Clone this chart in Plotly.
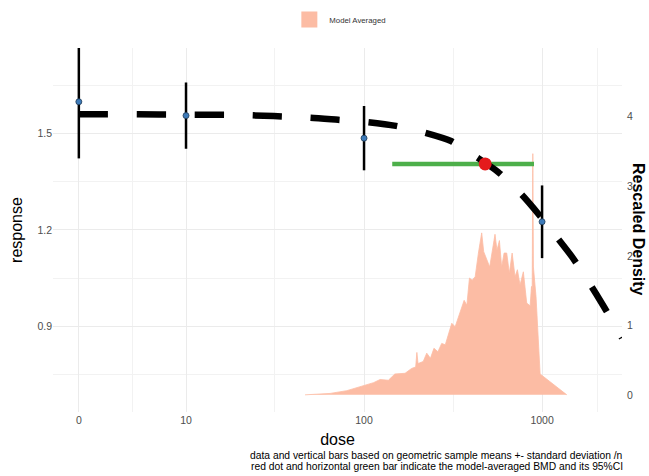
import plotly.graph_objects as go

# ---------------- data ----------------
dose_levels = [0, 10, 100, 1000]
resp_mean = [1.598, 1.555, 1.485, 1.225]
resp_sd = [0.176, 0.103, 0.100, 0.113]

ZERO_DOSE_POS = 2.5  # display position of dose 0 on the log dose axis

curve_dose = [0, 5, 10, 20, 49, 71.5, 104, 151, 220, 308, 437, 566, 772, 974,
              1183, 1474, 1813, 2230, 2812]
curve_resp = [1.559, 1.559, 1.558, 1.557, 1.549, 1.542, 1.535, 1.523, 1.502,
              1.476, 1.423, 1.380, 1.308, 1.243, 1.184, 1.116, 1.041, 0.960, 0.864]

bmd = 479
bmd_resp = 1.405
bmd_lower = 144
bmd_upper = 901

density_dose = [46.6, 64.4, 80, 99, 113, 123, 137, 149, 170, 185, 195, 198, 201,
                215, 225, 236, 247, 260, 273, 286, 298, 311, 325, 339, 352, 365,
                378, 391, 405, 421, 439, 458, 470, 493, 508, 544, 558, 576, 593,
                612, 633, 655, 679, 705, 727, 752, 785, 820, 857, 872, 880, 887,
                894, 925, 941, 958, 975, 1377]
density_val = [0.0, 0.02, 0.06, 0.127, 0.175, 0.22, 0.21, 0.30, 0.31, 0.38, 0.40,
               0.61, 0.45, 0.48, 0.60, 0.525, 0.67, 0.62, 0.74, 0.72, 0.86, 1.03,
               0.98, 1.12, 1.22, 1.36, 1.29, 1.68, 1.65, 1.70, 2.04, 2.33, 2.06,
               1.94, 1.84, 2.31, 2.08, 2.22, 1.84, 2.04, 2.04, 1.75, 2.04, 1.70,
               1.80, 1.58, 1.77, 1.32, 1.28, 1.56, 1.50, 3.47, 1.84, 1.41, 0.98,
               0.50, 0.30, 0.0]

x_tick_vals = [0, 10, 100, 1000]
x_tick_text = ["0", "10", "100", "1000"]
x_minor_vals = [5, 31.6, 316, 2040]
y_tick_vals = [0.9, 1.2, 1.5]
y_minor_vals = [0.75, 1.05, 1.35, 1.65]
dens_tick_vals = [0, 1, 2, 3, 4]

caption_lines = [
    "data and vertical bars based on geometric sample means +- standard deviation /n",
    "red dot and horizontal green bar indicate the model-averaged BMD and its 95%CI",
]


def pos(d):
    return ZERO_DOSE_POS if d == 0 else d


PINK = "#FCBCA4"
FONT = "Liberation Sans, Arial, Helvetica, sans-serif"
TICK_COLOR = "#4D4D4D"

fig = go.Figure()

# density (secondary scale, drawn underneath)
fig.add_trace(go.Scatter(
    x=density_dose, y=density_val, mode="lines", fill="tozeroy",
    fillcolor=PINK, line=dict(color=PINK, width=0.8),
    xaxis="x", yaxis="y", showlegend=False, hoverinfo="skip"))

# legend key
fig.add_trace(go.Scatter(
    x=[None], y=[None], mode="markers", name="Model Averaged",
    marker=dict(symbol="square", size=16, color=PINK), xaxis="x", yaxis="y"))

# BMD confidence interval (green)
fig.add_trace(go.Scatter(
    x=[bmd_lower, bmd_upper], y=[bmd_resp, bmd_resp], mode="lines",
    line=dict(color="#4DAF4A", width=4.5), xaxis="x", yaxis="y2",
    showlegend=False))

# model-averaged curve
fig.add_trace(go.Scatter(
    x=[pos(d) for d in curve_dose], y=curve_resp, mode="lines",
    line=dict(color="black", width=6.5, dash="29px,29px", shape="spline",
              smoothing=0.6),
    xaxis="x", yaxis="y2", showlegend=False))

# data points with SD bars
fig.add_trace(go.Scatter(
    x=[pos(d) for d in dose_levels], y=resp_mean, mode="markers",
    marker=dict(color="#3D7AB8", size=6, line=dict(color="#1F3B57", width=0.8)),
    error_y=dict(type="data", array=resp_sd, color="black", thickness=2.5, width=0),
    xaxis="x", yaxis="y2", showlegend=False))

# BMD point
fig.add_trace(go.Scatter(
    x=[bmd], y=[bmd_resp], mode="markers",
    marker=dict(color="#E41A1C", size=13), xaxis="x", yaxis="y2",
    showlegend=False))

fig.update_layout(
    width=649, height=476,
    margin=dict(l=53, r=27, t=48, b=64, autoexpand=False),
    paper_bgcolor="white", plot_bgcolor="white",
    font=dict(family=FONT, color="black"),
    xaxis=dict(
        type="log", range=[0.2528, 3.449], automargin=False,
        tickmode="array", tickvals=[pos(v) for v in x_tick_vals], ticktext=x_tick_text,
        tickfont=dict(size=10.5, color=TICK_COLOR),
        showgrid=True, gridcolor="#EBEBEB", gridwidth=1,
        minor=dict(tickmode="array", tickvals=x_minor_vals, showgrid=True,
                   gridcolor="#F2F2F2", gridwidth=1),
        zeroline=False, showline=False, ticks="",
        title=dict(text="dose", font=dict(size=16), standoff=9),
    ),
    yaxis=dict(
        side="right", range=[-0.247, 4.99], automargin=False,
        tickmode="array", tickvals=dens_tick_vals, ticklabelstandoff=4,
        tickfont=dict(size=10.5, color=TICK_COLOR),
        showgrid=False, zeroline=False, showline=False, ticks="",
    ),
    yaxis2=dict(
        overlaying="y", side="left", range=[0.6337, 1.7652], automargin=False,
        tickmode="array", tickvals=y_tick_vals,
        tickfont=dict(size=10.5, color=TICK_COLOR),
        showgrid=True, gridcolor="#EBEBEB", gridwidth=1,
        minor=dict(tickmode="array", tickvals=y_minor_vals, showgrid=True,
                   gridcolor="#F2F2F2", gridwidth=1),
        zeroline=False, showline=False, ticks="",
        title=dict(text="response", font=dict(size=16), standoff=10),
    ),
    legend=dict(orientation="h", x=0.505, xanchor="center", y=1.118, yanchor="top",
                font=dict(size=7.8, color="#333333"), bgcolor="rgba(0,0,0,0)"),
    annotations=[
        dict(text="<b>Rescaled Density</b>", textangle=90, xref="paper", yref="paper",
             x=1 + 17 / 569, y=0.5, xanchor="center", yanchor="middle",
             showarrow=False, font=dict(size=16, color="black")),
        dict(text=caption_lines[0], xref="paper", yref="paper", x=1.006, xanchor="right",
             y=(412 - 455) / 364, yanchor="middle", showarrow=False,
             font=dict(size=10.3, color="black")),
        dict(text=caption_lines[1], xref="paper", yref="paper", x=1.006, xanchor="right",
             y=(412 - 467) / 364, yanchor="middle", showarrow=False,
             font=dict(size=10.3, color="black")),
    ],
)

# remove the default page margin so the 649x476 figure fills the window
fig.write_html("out.html", config={"displayModeBar": False},
               post_script="document.body.style.margin='0';")
